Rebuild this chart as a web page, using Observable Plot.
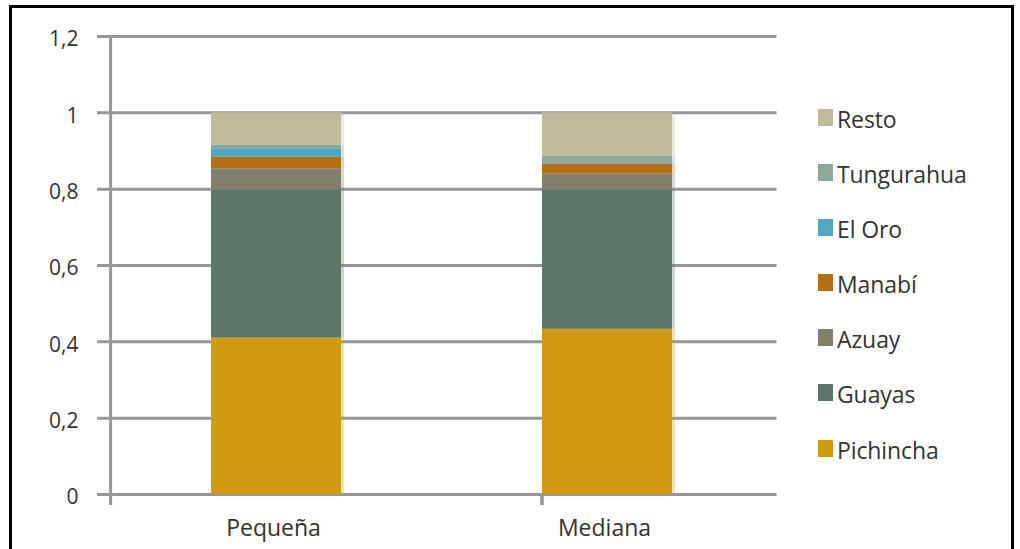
<!DOCTYPE html>
<html>
<head>
<meta charset="utf-8">
<script src="https://cdn.jsdelivr.net/npm/d3@7"></script>
<script src="https://cdn.jsdelivr.net/npm/@observablehq/plot@0.6"></script>
<style>
  html, body { margin: 0; padding: 0; background: #fff; }
  #wrap { position: relative; width: 1020px; height: 549px; overflow: hidden; background: #fff; font-family: "Open Sans", sans-serif; }
  #border { position: absolute; left: 9px; top: 5px; width: 1005px; height: 620px; border: 3px solid #000; box-sizing: border-box; pointer-events: none; }
  #chart { position: absolute; left: 0; top: 0; }
  #legend { position: absolute; left: 818px; top: 0; color: #333; font-size: 23px; }
  .row { position: absolute; left: 0; white-space: nowrap; height: 17px; }
  .sw { position: absolute; left: 0; top: 0; width: 15px; height: 17px; }
  .lab { position: absolute; left: 19px; top: -5px; line-height: 30px; letter-spacing: -0.1px; }
</style>
</head>
<body>
<div id="wrap">
  <div id="chart"></div>
  <div id="legend"></div>
  <div id="border"></div>
</div>
<script>
// ---- data ----
const categories = ["Pequeña", "Mediana"];
const regions = ["Pichincha", "Guayas", "Azuay", "Manabí", "El Oro", "Tungurahua", "Resto"];
const colors = ["#D19A12", "#5C7668", "#807F6B", "#B86E14", "#4FA8BF", "#8BA89A", "#BFBA9A"];
const pequena = [0.410, 0.388, 0.055, 0.031, 0.022, 0.009, 0.085];
const mediana = [0.433, 0.365, 0.042, 0.026, 0.003, 0.018, 0.113];
const yTicks = [0, 0.2, 0.4, 0.6, 0.8, 1, 1.2];
const yTickLabels = ["0", "0,2", "0,4", "0,6", "0,8", "1", "1,2"];

// ---- build table ----
const series = [pequena, mediana];
const data = [];
regions.forEach((r, j) => {
  categories.forEach((c, i) => data.push({cat: c, region: r, value: series[i][j]}));
});

const W = 1020, H = 549;
const mL = 110, mR = 246.5, mT = 36, mB = 55;
const step = (W - mL - mR) / categories.length;
const grid = "#96969a";

const bounds = categories.map((c) => ({cat: c, dx: -step / 2}))
  .concat([{cat: categories[categories.length - 1], dx: step / 2}]);

const chart = Plot.plot({
  width: W,
  height: H,
  marginLeft: mL,
  marginRight: mR,
  marginTop: mT,
  marginBottom: mB,
  style: {fontFamily: "'Open Sans', sans-serif", color: "#333", background: "transparent"},
  x: {domain: categories, paddingInner: 0.607, paddingOuter: 0.3035, axis: null},
  y: {domain: [0, 1.2], axis: null},
  color: {domain: regions, range: colors},
  marks: [
    Plot.ruleY(yTicks, {stroke: grid, strokeWidth: 3, insetLeft: -13, insetRight: -3}),
    // light right-edge stripe
    Plot.barY(data, {x: "cat", y: "value", fill: "region", fillOpacity: 0.3, insetRight: -3, order: regions}),
    Plot.barY(data, {x: "cat", y: "value", fill: "region", order: regions}),
    // y axis line
    Plot.ruleX([categories[0]], {x: (d) => d, y1: 1.2, y2: 0, dx: -step / 2, insetBottom: -11, stroke: grid, strokeWidth: 3}),
    // category boundary ticks
    Plot.ruleX(bounds.slice(1), {x: "cat", dx: (d) => d.dx, y1: 0, y2: 0, insetBottom: -11, stroke: grid, strokeWidth: 3}),
    Plot.axisY({ticks: yTicks, tickFormat: (d) => yTickLabels[yTicks.indexOf(d)], tickSize: 0, tickPadding: 32, fontSize: 21, dy: 3, label: null}),
    Plot.axisX({tickSize: 0, tickPadding: 25, fontSize: 23, label: null, dx: -3})
  ]
});
document.getElementById("chart").appendChild(chart);

// ---- legend ----
const legend = document.getElementById("legend");
const rowTops = [109, 164, 219, 274, 329, 384, 440];
regions.slice().reverse().forEach((r, k) => {
  const j = regions.indexOf(r);
  const row = document.createElement("div");
  row.className = "row";
  row.style.top = rowTops[k] + "px";
  const sw = document.createElement("div");
  sw.className = "sw";
  sw.style.background = colors[j];
  const lab = document.createElement("div");
  lab.className = "lab";
  lab.textContent = r;
  row.appendChild(sw);
  row.appendChild(lab);
  legend.appendChild(row);
});
</script>
</body>
</html>
